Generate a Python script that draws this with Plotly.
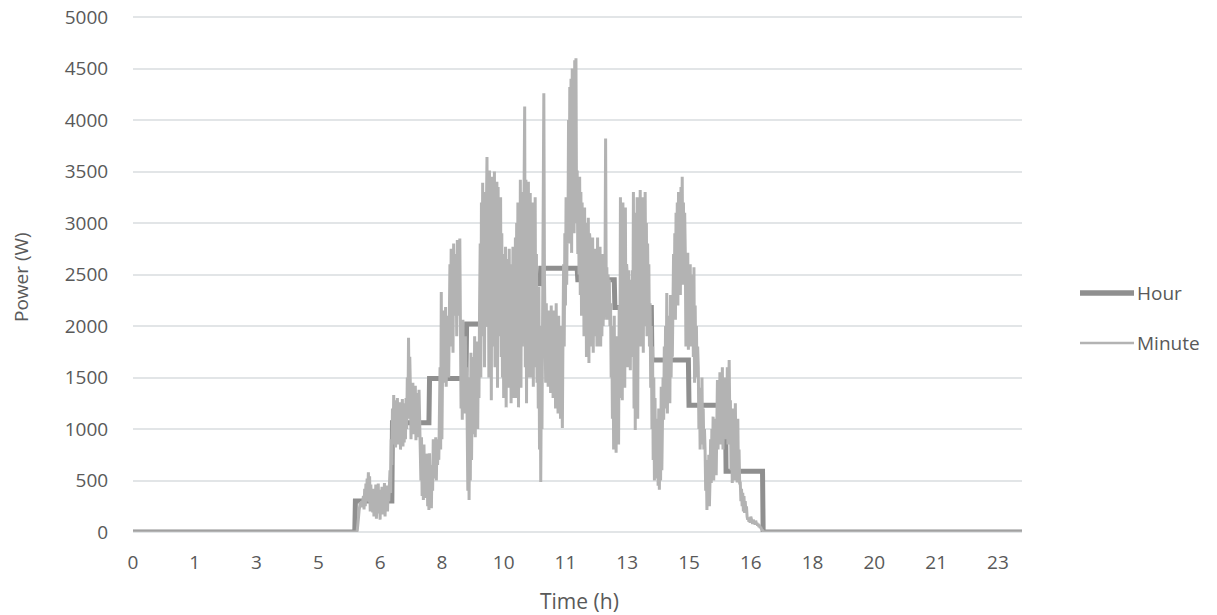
import plotly.graph_objects as go

# ---------------- data ----------------
hour_power = [0, 0, 0, 0, 0, 0, 300, 1060, 1490, 2020, 2410, 2560,
              2450, 2180, 1670, 1230, 590, 0, 0, 0, 0, 0, 0, 0]

minute_start = 363  # first non-zero minute of the day
minute_day_power = [
    15, 60, 140, 210, 260, 290, 240, 300, 260, 310,
    350, 220, 420, 250, 470, 300, 520, 380, 580, 290, 540, 200, 460, 230, 400, 190,
    420, 150, 380, 200, 460, 130, 350, 240, 470, 180, 300, 120, 410, 260, 440, 170, 330, 220, 475, 150, 390, 280, 450, 200, 420, 300, 460,
    600, 380, 900, 650, 1200, 850, 1330, 950,
    1280, 820, 1150, 900, 1300, 850, 1220, 1000, 1260, 800, 1100, 950, 1290, 830, 1180, 870, 1250, 900, 1300, 1000,
    1500, 1100, 1885, 1300, 1700,
    1400, 900, 1300, 1000, 1450, 950, 1250, 1100, 1420, 890, 1350, 980, 1200, 920, 1380, 1050,
    800, 500, 920, 350, 700, 310, 850, 400, 600, 330, 760,
    700, 250, 600, 215, 765, 300, 500, 230, 650, 400,
    900, 520, 800, 600, 920, 500, 850, 650, 900, 700, 1100,
    1600, 800, 2330, 900, 2000,
    2150, 1450, 1900, 1600, 2185, 1410, 2000, 1700, 2100, 1500, 2200,
    2600, 1800, 2750, 2000, 2500, 1740, 2800, 2100, 2700, 2200, 2650, 1900, 2835, 2250, 2750, 2100, 2850,
    2000, 1200, 1800, 1090, 2060, 1400, 1700, 1150, 1900, 1300, 1600,
    900, 400, 1500, 310, 1200, 500, 1740, 700,
    1400, 950, 1700, 1100, 1900, 920, 1600, 1200, 1850, 1000, 1750, 1300, 2200,
    2800, 1500, 3200, 1900, 3390, 2200, 3000, 1600, 3300, 2500, 3500,
    3640, 2000, 3400, 1500, 3510, 2200, 3300, 1280, 3450, 1800, 3350, 2100, 3500, 1600, 3200, 2220, 3400, 1400, 3350, 1900, 3100, 2000, 3250, 1700, 2900, 1500,
    2700, 1300, 2500, 1600, 2770, 1210, 2400, 1800, 2650, 1400, 2750, 1500, 2300, 1250, 2600, 1700, 2770, 1300, 2500, 1600,
    2860, 1300, 3000, 1500, 3200, 1210, 2900, 1600, 3420, 1400, 3300, 1800, 3100,
    2500, 3500, 4130, 1600, 3420, 1250, 3300, 1800, 3400, 1500, 3200,
    3290, 1500, 3100, 1800, 3200, 1410, 2900, 2000, 3250, 1600, 2700, 1450, 2380,
    1200, 2380, 800, 2000, 485, 1500, 1000, 2400,
    3500, 4260, 2500,
    2100, 1450, 2220, 1600, 2000, 1410, 2150, 1700, 1900, 1350, 2200, 1500, 2050, 1300, 2150, 1600, 1850, 1200, 2220, 1400, 2000, 1150, 2100, 1300, 1900, 1100, 2000, 1250, 1010,
    1900, 2600, 1800, 2900, 2200, 3250, 2400, 3100, 2800,
    4000, 2800, 4320, 3030, 4400, 2710, 4500, 3000, 4450, 2900, 4580, 3200, 4600, 3000,
    3510, 2700, 3400, 2500, 3450, 2300, 3300, 2100, 3200, 2400, 3100, 1900, 3150, 2000, 3000, 1700, 2960, 1900, 3050, 1640, 2900,
    2800, 1800, 2600, 2000, 2860, 1740, 2500, 2100, 2750, 1900, 2650, 1800, 2860, 2000, 2700, 1800,
    2770, 1800, 2600, 1900, 2700, 2000, 2570, 2060, 2500, 3820,
    2300, 2570, 2060, 2500, 2100, 2450, 2000,
    2220, 1500, 2000, 1100, 1800, 800, 2100, 900, 1600, 770, 1900, 1000, 1700, 850, 2200, 1300,
    3250, 1500, 3000, 1280, 3200, 1800, 2800, 1400, 3150, 1600, 2600,
    2500, 1600, 2540, 1800, 2300, 1570, 2450, 1900, 2540, 1700,
    3300, 1200, 3100, 990, 2900, 1500, 3250, 1100, 2800, 1800, 3200,
    3320, 1800, 3100, 2200, 3250, 1740, 2900, 2000, 3300, 2400, 3000, 1900, 2800, 2100, 2600, 1800,
    2220, 1400, 2000, 1000, 1800, 700, 1500, 500, 1300, 600, 1100, 520,
    1000, 450, 1200, 410, 900, 500, 1410, 600, 1100,
    1500, 1090, 1800, 1200, 2000, 1300, 2320, 1150, 1900, 1400, 2100, 1250, 2300, 1500, 2000, 1700, 2320,
    2700, 2100, 2900, 2060, 3100, 2300, 3200, 2200, 3300, 2420, 3000, 2300, 3350, 2500, 3450, 2400, 3200, 2420, 3100,
    2700, 1800, 2500, 2000, 2710, 1770, 2400, 1900, 2600, 1800, 2300, 2000, 2500,
    1700, 2570, 1450, 2200, 1600, 2000, 1500, 1800,
    1600, 1000, 1400, 800, 1300, 900, 1500, 850, 1200, 800, 1000,
    800, 400, 700, 215, 600, 300, 750, 250, 500,
    900, 475, 1000, 600, 1120, 500, 950, 700, 1100, 550, 1200,
    1475, 800, 1400, 900, 1550, 850, 1300, 1000, 1600, 800, 1450, 1100, 1500, 900, 1350, 1000, 1600, 850, 1400, 1670, 1100,
    1280, 600, 1100, 475, 1200, 700, 1000, 500, 1250, 650, 900, 480, 1100, 550, 800, 475,
    475, 300, 420, 250, 380, 200, 350, 185, 300, 200, 250,
    150, 120, 140, 100, 130, 90, 150, 110, 100, 80, 120, 90, 100, 70, 110, 80, 90, 60, 80, 50, 70, 40, 50, 30, 20, 10,
]

x_tick_labels = ["0", "1", "3", "5", "6", "8", "10", "11", "13", "15", "16", "18", "20", "21", "23"]
series_names = ["Hour", "Minute"]
x_title = "Time (h)"
y_title = "Power (W)"

# ---------------- build per-minute series ----------------
N_MIN = 1440
minutes = list(range(N_MIN))
hour_series = [hour_power[m // 60] for m in minutes]
minute_series = ([0] * minute_start + minute_day_power +
                 [0] * (N_MIN - minute_start - len(minute_day_power)))

HOUR_COLOR = "#8f8f8f"
MIN_COLOR = "#b3b3b3"
TEXT_COLOR = "#595959"
GRID_COLOR = "#e2e5e7"
FONT = "Open Sans"

fig = go.Figure()
fig.add_trace(go.Scatter(x=minutes, y=hour_series, mode="lines", name=series_names[0],
                         line=dict(color=HOUR_COLOR, width=5), showlegend=False))
fig.add_trace(go.Scatter(x=minutes, y=minute_series, mode="lines", name=series_names[1],
                         line=dict(color=MIN_COLOR, width=3), showlegend=False))

# pixel helpers for paper coordinates
L, R, T, B = 133, 195, 15, 83
W, H = 1217, 615
pw, ph = W - L - R, H - T - B
def px_x(x): return (x - L) / pw
def px_y(y): return (H - B - y) / ph

# manual legend (long line samples as in the reference)
legend_items = [(series_names[0], HOUR_COLOR, 5.5, 293), (series_names[1], MIN_COLOR, 2.6, 343)]
for name, col, wd, yy in legend_items:
    fig.add_shape(type="line", xref="paper", yref="paper",
                  x0=px_x(1080), x1=px_x(1134), y0=px_y(yy), y1=px_y(yy),
                  line=dict(color=col, width=wd))
    fig.add_annotation(xref="paper", yref="paper", x=px_x(1135), y=px_y(yy),
                       text=name, showarrow=False, xanchor="left", yanchor="middle",
                       font=dict(family=FONT, size=19, color=TEXT_COLOR))

# axis titles
fig.add_annotation(xref="paper", yref="paper", x=px_x(579), y=px_y(601),
                   text=x_title, showarrow=False, xanchor="center", yanchor="middle",
                   font=dict(family=FONT, size=21, color=TEXT_COLOR))
fig.add_annotation(xref="paper", yref="paper", x=px_x(21), y=px_y(277),
                   text=y_title, showarrow=False, textangle=-90,
                   xanchor="center", yanchor="middle",
                   font=dict(family=FONT, size=19, color=TEXT_COLOR))

# y range chosen so that 0 sits at y=532 px and 5000 at y=17 px, with a little headroom
Y_TOP = 5000 * (532 - T) / (532 - 17)

fig.update_layout(
    width=W, height=H,
    margin=dict(l=L, r=R, t=T, b=B, autoexpand=False),
    paper_bgcolor="white", plot_bgcolor="white",
    font=dict(family=FONT, size=19, color=TEXT_COLOR),
    showlegend=False,
)
fig.update_xaxes(
    range=[0, N_MIN - 1],
    tickvals=[i * 100 for i in range(len(x_tick_labels))],
    ticktext=x_tick_labels,
    showgrid=False, zeroline=False, showline=False, automargin=False,
    ticks="outside", ticklen=13, tickcolor="rgba(0,0,0,0)",
)
fig.update_yaxes(
    range=[0, Y_TOP], tickvals=[i * 500 for i in range(11)],
    showgrid=True, gridcolor=GRID_COLOR, gridwidth=1.5,
    zeroline=True, zerolinecolor=GRID_COLOR, zerolinewidth=1.5,
    showline=False, automargin=False,
    ticks="outside", ticklen=20, tickcolor="rgba(0,0,0,0)",
)

fig.write_html("out.html")
